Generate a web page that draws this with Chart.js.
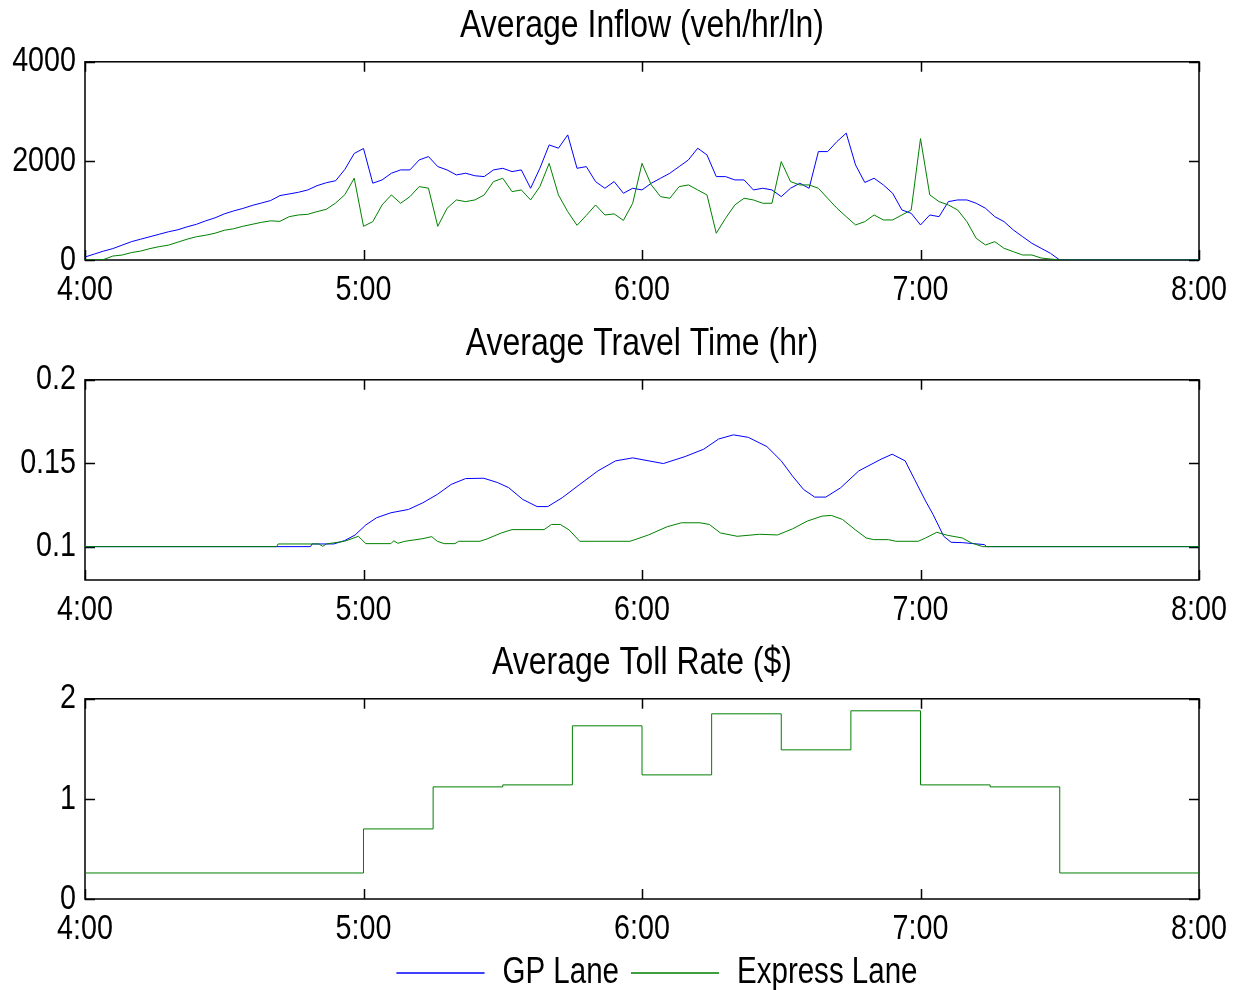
<!DOCTYPE html>
<html>
<head>
<meta charset="utf-8">
<script src="https://cdn.jsdelivr.net/npm/chart.js@4.4.0/dist/chart.umd.min.js"></script>
<style>
    html, body { margin: 0; padding: 0; background: #fff; overflow: hidden; }
    #wrap { position: relative; width: 1233px; height: 990px; }
    canvas { position: absolute; left: 0; }
</style>
</head>
<body>
<div id="wrap">
    <canvas id="inflowChart" width="1233" height="318" style="top:0px"></canvas>
    <canvas id="travelChart" width="1233" height="319" style="top:318px"></canvas>
    <canvas id="tollChart" width="1233" height="364" style="top:637px"></canvas>
</div>
<script>
// ===== DATA (minutes after 4:00) =====
const xTickValues = [0, 60, 120, 180, 240];
const xTickLabels = ["4:00", "5:00", "6:00", "7:00", "8:00"];

const inflowTimes = [
    0, 2, 4, 6, 8, 10, 12, 14, 16, 18, 20, 22, 24, 26, 28, 30, 32, 34, 36, 38,
    40, 42, 44, 46, 48, 50, 52, 54, 56, 58, 60, 62, 64, 66, 68, 70, 72, 74, 76, 78,
    80, 82, 84, 86, 88, 90, 92, 94, 96, 98, 100, 102, 104, 106, 108, 110, 112, 114, 116, 118,
    120, 122, 124, 126, 128, 130, 132, 134, 136, 138, 140, 142, 144, 146, 148, 150, 152, 154, 156, 158,
    160, 162, 164, 166, 168, 170, 172, 174, 176, 178, 180, 182, 184, 186, 188, 190, 192, 194, 196, 198,
    200, 202, 204, 206, 208, 210, 240
];
const gpInflow = [
    60, 120, 180, 230, 300, 370, 420, 470, 520, 570,
    610, 670, 720, 790, 850, 930, 990, 1040, 1100, 1150,
    1200, 1300, 1333, 1367, 1414, 1500, 1560, 1600, 1830, 2150,
    2250, 1550, 1616, 1751, 1818, 1818, 2020, 2087, 1885, 1818,
    1717, 1751, 1700, 1683, 1818, 1851, 1784, 1818, 1448, 1851,
    2323, 2256, 2525, 1851, 1885, 1582, 1448, 1582, 1347, 1448,
    1414, 1549, 1650, 1751, 1885, 2020, 2256, 2121, 1683, 1683,
    1616, 1616, 1414, 1448, 1414, 1279, 1448, 1549, 1448, 2188,
    2188, 2390, 2560, 1919, 1565, 1650, 1515, 1347, 1010, 942,
    707, 909, 875, 1178, 1212, 1212, 1145, 1044, 875, 774,
    606, 471, 337, 236, 135, 0,
    0
];
const expressInflow = [
    0, 0, 10, 80, 100, 150, 180, 230, 270, 300,
    360, 420, 470, 500, 540, 600, 630, 680, 720, 760,
    790, 780, 875, 909, 922, 976, 1024, 1150, 1320, 1650,
    680, 774, 1111, 1313, 1145, 1279, 1481, 1450, 680, 1044,
    1212, 1178, 1212, 1313, 1582, 1650, 1380, 1414, 1212, 1481,
    1950, 1313, 976, 700, 900, 1111, 909, 930, 800, 1145,
    1950, 1515, 1279, 1246, 1481, 1515, 1414, 1313, 539, 842,
    1111, 1246, 1212, 1145, 1145, 1986, 1582, 1515, 1515, 1448,
    1246, 1044, 875, 707, 774, 909, 808, 808, 909, 1010,
    2450, 1313, 1178, 1111, 1010, 774, 438, 303, 370, 236,
    168, 101, 101, 40, 20, 0,
    0
];

const gpTravelTimes = [
    0, 48.6, 48.9, 53.6, 55.9, 58.2, 60.5, 62.8, 65.9, 69.7, 72.8, 75.9, 78.9, 82, 85.9, 88.9, 91.3, 94.3,
    97.4, 99.7, 102.8, 106.6, 110.5, 114.3, 118, 124.6, 129.3, 133.3, 136.5, 139.7, 142.9, 146.9,
    150, 152.4, 154.8, 157.2, 159.6, 162.8, 166.7, 171.5, 173.9, 176.7, 178.7, 181.1, 182.7, 185,
    186.6, 189, 193.8, 194.2, 240
];
const gpTravel = [
    0.1, 0.1, 0.1016, 0.1016, 0.1036, 0.107, 0.113, 0.1173, 0.1203, 0.1223, 0.1263, 0.1313, 0.1373, 0.1408, 0.141, 0.1384, 0.1353, 0.1283,
    0.124, 0.124, 0.1293, 0.1373, 0.1454, 0.1514, 0.1532, 0.1498, 0.154, 0.1584, 0.1645, 0.167, 0.1655, 0.16,
    0.1514, 0.1424, 0.1343, 0.1297, 0.1297, 0.1353, 0.1454, 0.1524, 0.1554, 0.1514, 0.1404, 0.1273, 0.1193, 0.1062,
    0.1026, 0.1024, 0.1012, 0.1, 0.1
];
const expressTravelTimes = [
    0, 41.3, 41.6, 50.4, 51.2, 52, 55.9, 58.9, 60.5, 65.9, 66.5, 67.4, 68.9, 72.8, 74.7, 75.9, 77.4, 79.7, 80.5,
    85.1, 86.6, 89.7, 92, 98.9, 100.5, 102.4, 104.3, 106.6, 117.4, 118.9, 121.4, 125.4, 128.5, 132.5, 134.5,
    136.9, 140.5, 143.7, 145.3, 149.2, 152.4, 155.6, 158.8, 160.8, 163.2, 165.9, 168.3, 169.9, 173.1, 174.7,
    179.5, 181.1, 183.5, 185.8, 189, 191, 193.4, 240
];
const expressTravel = [
    0.1, 0.1, 0.1016, 0.1016, 0.1002, 0.1016, 0.1032, 0.1062, 0.1018, 0.1018, 0.1035, 0.102, 0.1032, 0.1048, 0.106, 0.1032, 0.1018, 0.1018, 0.1032,
    0.1032, 0.1046, 0.1082, 0.1102, 0.1102, 0.1133, 0.1133, 0.11, 0.1032, 0.1032, 0.1046, 0.107, 0.1119, 0.1143, 0.1143, 0.1133,
    0.1082, 0.1062, 0.107, 0.1074, 0.107, 0.1106, 0.1153, 0.1183, 0.1187, 0.1163, 0.1102, 0.1052, 0.1042, 0.1042, 0.1032,
    0.1032, 0.1052, 0.1086, 0.1068, 0.1052, 0.1022, 0.1, 0.1
];

// toll changes every 15 minutes (value holds until the next time)
const tollTimes = [0, 60, 75, 90, 105, 120, 135, 150, 165, 180, 195, 210, 240];
const tollRates = [0.26, 0.70, 1.12, 1.14, 1.73, 1.24, 1.85, 1.49, 1.88, 1.14, 1.12, 0.26, 0.26];

const GP_COLOR = "#0000ff";
const EXPRESS_COLOR = "#008000";
const FONT = "'Liberation Sans', Arial, sans-serif";
const SQUEEZE = 0.82; // Arial Narrow is Arial at ~82% width

Chart.defaults.font.family = FONT;
Chart.defaults.color = "#000";

// ===== HELPERS =====
function toPoints(xs, ys) {
    return xs.map((x, i) => ({ x: x, y: ys[i] }));
}

// Make every text drawn on this canvas narrow (no narrow font is installed)
function narrowText(canvas) {
    const ctx = canvas.getContext("2d");
    const fill = ctx.fillText.bind(ctx);
    const measure = ctx.measureText.bind(ctx);
    ctx.fillText = (text, x, y) => {
        ctx.save();
        ctx.translate(x, y);
        ctx.scale(SQUEEZE, 1);
        fill(text, 0, 0);
        ctx.restore();
    };
    ctx.measureText = text => {
        const m = measure(text);
        return {
            width: m.width * SQUEEZE,
            actualBoundingBoxAscent: m.actualBoundingBoxAscent,
            actualBoundingBoxDescent: m.actualBoundingBoxDescent
        };
    };
    return canvas;
}

// MATLAB-style box with inward ticks on all four sides
const matlabAxes = {
    id: "matlabAxes",
    afterLayout(chart) {
        // MATLAB centres the legend a little right of the axes centre
        if (chart.options.plugins.legend.display) {
            chart.legend.left += 15;
            chart.legend.right += 15;
        }
    },
    beforeDatasetsDraw(chart) {
        const { ctx, chartArea: a, scales } = chart;
        const len = 10;
        ctx.save();
        ctx.strokeStyle = "#000";
        ctx.lineWidth = 1.5;
        ctx.strokeRect(a.left, a.top, a.right - a.left, a.bottom - a.top);
        ctx.beginPath();
        scales.x.ticks.forEach(t => {
            const px = Math.round(scales.x.getPixelForValue(t.value)) + 0.5;
            ctx.moveTo(px, a.bottom); ctx.lineTo(px, a.bottom - len);
            ctx.moveTo(px, a.top); ctx.lineTo(px, a.top + len);
        });
        scales.y.ticks.forEach(t => {
            const py = Math.round(scales.y.getPixelForValue(t.value)) + 0.5;
            ctx.moveTo(a.left, py); ctx.lineTo(a.left + len, py);
            ctx.moveTo(a.right, py); ctx.lineTo(a.right - len, py);
        });
        ctx.stroke();
        ctx.restore();
    }
};

function lineSet(label, color, points, order) {
    return {
        label: label,
        data: points,
        borderColor: color,
        backgroundColor: color,
        borderWidth: 1,
        pointRadius: 0,
        tension: 0,
        order: order
    };
}

function makeChart(id, title, datasets, y, xHeight, showLegend) {
    return new Chart(narrowText(document.getElementById(id)), {
        type: "line",
        data: { datasets: datasets },
        options: {
            responsive: false,
            animation: false,
            devicePixelRatio: 1,
            layout: { padding: { left: 0, right: 34, top: 0, bottom: 0 } },
            scales: {
                x: {
                    type: "linear",
                    min: 0,
                    max: 240,
                    afterBuildTicks: s => { s.ticks = xTickValues.map(v => ({ value: v })); },
                    afterFit: s => {
                        s.height = xHeight;
                        s.paddingLeft = 0;
                        s.paddingRight = 0;
                    },
                    ticks: {
                        callback: v => xTickLabels[xTickValues.indexOf(v)],
                        font: { size: 35 },
                        padding: 9,
                        maxRotation: 0,
                        autoSkip: false
                    },
                    grid: { display: false, drawTicks: false },
                    border: { display: false }
                },
                y: {
                    min: y.min,
                    max: y.max,
                    afterBuildTicks: s => { s.ticks = y.ticks.map(v => ({ value: v })); },
                    afterFit: s => { s.width = 85; },
                    ticks: {
                        callback: v => y.labels[y.ticks.indexOf(v)],
                        font: { size: 35 },
                        padding: 9
                    },
                    grid: { display: false, drawTicks: false },
                    border: { display: false }
                }
            },
            plugins: {
                title: {
                    display: true,
                    fullSize: false,
                    text: title,
                    color: "#000",
                    font: { size: 39, weight: "normal" },
                    padding: { top: 3, bottom: 12 }
                },
                legend: {
                    display: showLegend,
                    fullSize: false,
                    position: "bottom",
                    labels: {
                        boxWidth: 88,
                        boxHeight: 0,
                        padding: 12,
                        color: "#000",
                        font: { size: 36 },
                        sort: (a, b) => a.datasetIndex - b.datasetIndex
                    }
                },
                tooltip: { enabled: false }
            }
        },
        plugins: [matlabAxes]
    });
}

// ===== CHARTS =====
makeChart("inflowChart", "Average Inflow (veh/hr/ln)", [
    lineSet("GP Lane", GP_COLOR, toPoints(inflowTimes, gpInflow), 2),
    lineSet("Express Lane", EXPRESS_COLOR, toPoints(inflowTimes, expressInflow), 1)
], { min: 0, max: 4000, ticks: [0, 2000, 4000], labels: ["0", "2000", "4000"] }, 58, false);

makeChart("travelChart", "Average Travel Time (hr)", [
    lineSet("GP Lane", GP_COLOR, toPoints(gpTravelTimes, gpTravel), 2),
    lineSet("Express Lane", EXPRESS_COLOR, toPoints(expressTravelTimes, expressTravel), 1)
], { min: 0.08, max: 0.2, ticks: [0.1, 0.15, 0.2], labels: ["0.1", "0.15", "0.2"] }, 57, false);

const tollSet = lineSet("Express Lane", EXPRESS_COLOR, toPoints(tollTimes, tollRates), 1);
tollSet.stepped = true;
makeChart("tollChart", "Average Toll Rate ($)", [
    lineSet("GP Lane", GP_COLOR, [], 2),
    tollSet
], { min: 0, max: 2, ticks: [0, 1, 2], labels: ["0", "1", "2"] }, 44, true);
</script>
</body>
</html>
